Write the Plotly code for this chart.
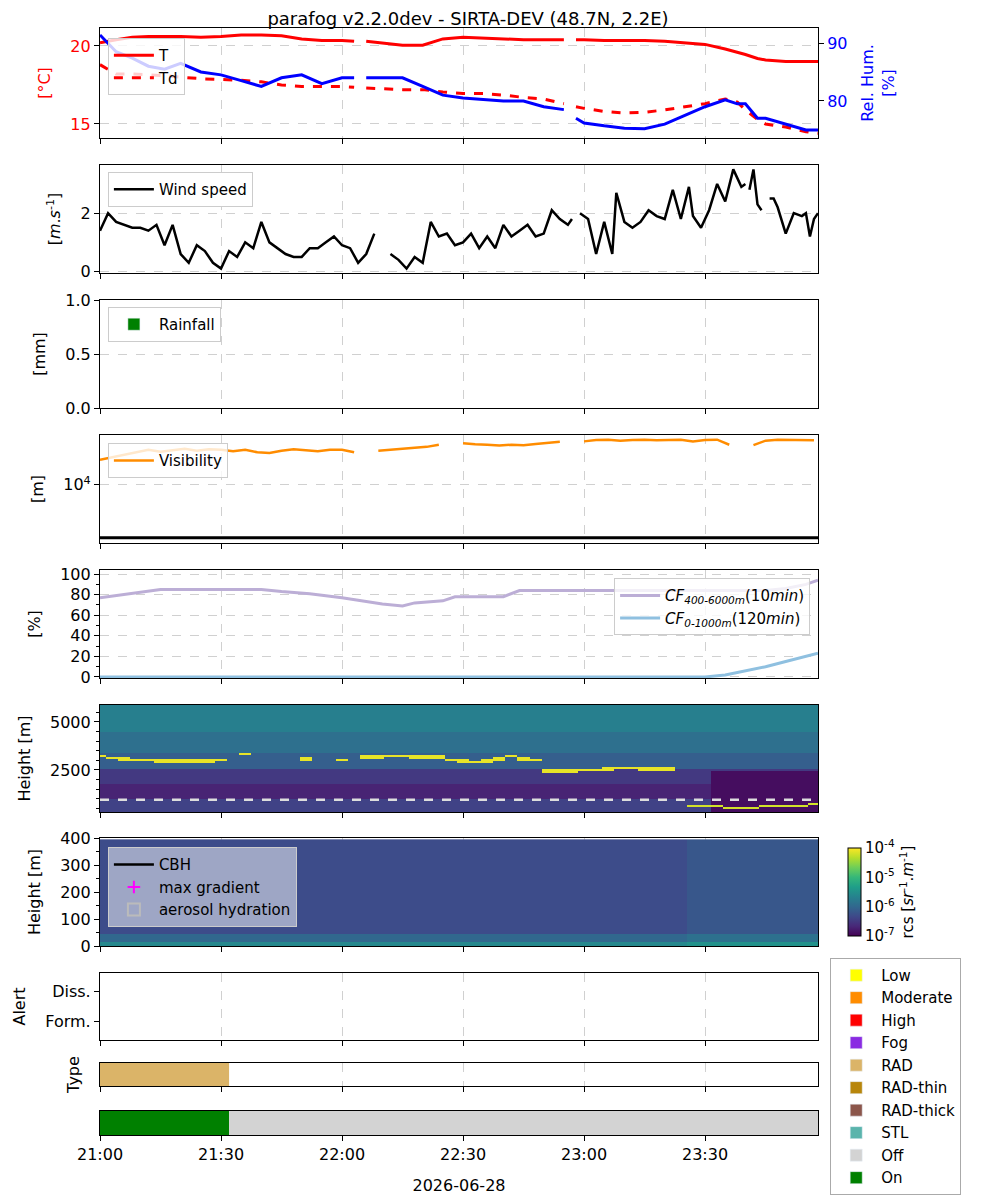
import numpy as np
import pandas as pd
import plotly.graph_objects as go

DAY = "2026-06-28"
T0 = pd.Timestamp(DAY + " 21:00")
XR = [T0, T0 + pd.Timedelta(minutes=178)]

# --- meteo (minutes after 21:00) ---
met_min = [0, 4, 8, 12, 16, 20, 25, 30, 35, 40, 45, 50, 55, 60, 63, 64, 66, 70, 75, 80, 85, 90, 95, 100,
           105, 110, 115, 116, 118, 120, 125, 130, 135, 140, 145, 150, 155, 158, 160, 163, 165, 170, 175, 178]
temp = [20.2, 20.4, 20.55, 20.6, 20.6, 20.6, 20.55, 20.6, 20.7, 20.7, 20.65, 20.45, 20.35, 20.35, 20.3, None,
        20.3, 20.2, 20.05, 20.05, 20.45, 20.55, 20.5, 20.45, 20.4, 20.4, 20.4, None, 20.4, 20.4, 20.35, 20.35,
        20.35, 20.3, 20.2, 20.1, 19.8, 19.6, 19.45, 19.2, 19.1, 19.0, 19.0, 19.0]
dewp = [18.8, 18.2, 18.2, 18.15, 18.1, 18.0, 17.9, 17.85, 17.8, 17.7, 17.5, 17.4, 17.4, 17.4, 17.35, None,
        17.3, 17.25, 17.2, 17.2, 17.05, 16.95, 16.95, 16.85, 16.7, 16.6, 16.3, None, 16.1, 16.0, 15.8, 15.7,
        15.75, 15.9, 16.1, 16.3, 16.6, 16.4, 15.9, 15.3, 15.0, 14.8, 14.5, 14.4]
rh = [91.4, 88.5, 87.4, 86.0, 85.5, 86.5, 85.0, 84.5, 83.5, 82.5, 84.0, 84.5, 83.0, 84.0, 84.0, None,
      84.0, 84.0, 84.0, 82.5, 81.0, 80.5, 80.3, 80.0, 80.0, 79.0, 78.5, None, 77.0, 76.2, 75.7, 75.3,
      75.2, 76.0, 77.5, 79.0, 80.2, 79.5, 79.5, 77.0, 77.0, 76.0, 75.0, 75.0]

wind_min = [0, 2, 4, 6, 8, 10, 12, 14, 16, 18, 20, 22, 24, 26, 28, 30, 32, 34, 36, 38, 40, 42, 44, 46, 48,
            50, 52, 54, 56, 58, 60, 62, 64, 66, 68, 70, 72, 74, 76, 78, 80, 82, 84, 86, 88, 90, 92, 94, 96,
            98, 100, 102, 104, 106, 108, 110, 112, 114, 116, 117, 118, 119, 121, 123, 125, 127, 128, 130,
            132, 134, 136, 138, 140, 142, 144, 146, 147, 149, 151, 153, 155, 157, 159, 160, 160.5, 161,
            162, 163, 164, 165, 166, 167, 168, 170, 172, 174, 175, 176, 177, 178]
wind = [1.4, 2.0, 1.7, 1.6, 1.5, 1.5, 1.4, 1.6, 0.9, 1.6, 0.6, 0.3, 0.9, 0.7, 0.3, 0.1, 0.7, 0.5, 1.0,
        0.8, 1.7, 1.0, 0.8, 0.6, 0.5, 0.5, 0.8, 0.8, 1.0, 1.2, 0.9, 0.8, 0.3, 0.6, 1.3, None, 0.6, 0.4,
        0.1, 0.5, 0.3, 1.7, 1.2, 1.3, 0.9, 1.0, 1.3, 0.8, 1.2, 0.8, 1.6, 1.2, 1.4, 1.6, 1.2, 1.3, 2.1,
        1.8, 1.6, 1.8, None, 2.0, 1.8, 0.6, 1.7, 0.6, 2.7, 1.7, 1.5, 1.7, 2.1, 1.9, 1.8, 2.8, 1.8, 2.9,
        1.9, 1.5, 2.1, 3.0, 2.4, 3.5, 2.9, 3.0, None, 2.8, 3.5, 2.3, 2.1, None, 2.5, 2.5, 2.2, 1.3, 2.0,
        1.9, 2.0, 1.2, 1.8, 2.0]

vis_min = list(range(0, 179, 3))
vis_k = [29.5, 33, 36.8, 40, 45.7, 42, 45, 48, 44, 47, 45.7, 43, 46, 41, 39.7, 44, 47, 45.7, 43, 46,
         45.7, 41, None, 44, 45.7, 47, 49, 52, 57, None, 61, 58, 57, 55, 57, 56, 59, 62, 65, None,
         66, 70, 71, 68, 70, 71, 69, 70, 71, 66, 70, 71, 57, None, 56, 68, 71, 70, 68, 69]

cf_min = [0, 15, 40, 45, 52, 60, 70, 75, 78, 85, 88, 100, 104, 165, 170, 175, 178]
cf_high = [77, 85, 85, 83, 81, 77, 71, 69, 72, 74, 78, 78, 84, 84, 86, 90, 94]
cf_low_min = [0, 150, 155, 160, 165, 170, 178]
cf_low = [0, 0, 2, 6, 10, 15, 23]

# --- lidar ---
lid_min = list(range(0, 178, 3))
cloud_h = [3200, 3100, 3050, 3000, 3000, 2980, 2960, 2950, 2950, 2950, 3000, None, 3300, None, None,
           None, None, 3050, None, None, 3000, None, 3150, 3150, 3200, 3200, 3150, 3150, 3120, 3000,
           2930, 2900, 2950, 3050, 3200, 3050, 3000, 2450, 2450, 2450, 2500, 2500, 2550, 2600, 2600,
           2550, 2550, 2550, None, None, None, None, None, None, None, None, None, None, None, None]
low_cloud_h = [None] * 49 + [560, 580, 560, 540, 520, 540, 560, 600, 620, 640, 660]
heights = list(range(300, 6000, 100))
bg_band_top = [1000, 1800, 2600, 3400, 4500, 6000]
bg_band_val = [-6.4, -6.7, -6.5, -6.1, -5.9, -5.7]
low_heights = list(range(0, 400, 10))
low_band_top = [20, 50, 400]
low_band_val = [-5.6, -6.0, -6.3]

state_start = ["21:00"]
state_end = ["21:32"]

def tmin(m):
    return [T0 + pd.Timedelta(minutes=v) for v in m]

def band(h, tops, vals):
    for t, v in zip(tops, vals):
        if h < t:
            return v
    return vals[-1]

z_hi = []
for h in heights:
    row = []
    for i, m in enumerate(lid_min):
        v = band(h, bg_band_top, bg_band_val)
        if m >= 152 and h < 2500:
            v = -6.9
        c = cloud_h[i]
        if c is not None and abs(h - c) < 100:
            v = -4.1
        lc = low_cloud_h[i]
        if lc is not None and abs(h - lc) < 60:
            v = -4.2
        row.append(v)
    z_hi.append(row)

z_lo = []
for h in low_heights:
    row = []
    for m in lid_min:
        v = band(h, low_band_top, low_band_val)
        if m >= 145:
            v += 0.12
        row.append(v)
    z_lo.append(row)

FONT = "DejaVu Sans"
fig = go.Figure()

def D(y0, y1):
    return [(1135 - y1) / 1107, (1135 - y0) / 1107]

doms = [D(28, 138), D(165, 273), D(300, 408), D(435, 543), D(570, 678),
        D(705, 812), D(838, 946), D(973, 1040), D(1063, 1086), D(1111, 1135)]

# panel 1
fig.add_trace(go.Scatter(x=tmin(met_min), y=temp, name="T", mode="lines", line=dict(color="red", width=3),
                         xaxis="x", yaxis="y", legend="legend"))
fig.add_trace(go.Scatter(x=tmin(met_min), y=dewp, name="Td", mode="lines",
                         line=dict(color="red", width=3, dash="dash"), xaxis="x", yaxis="y", legend="legend"))
fig.add_trace(go.Scatter(x=tmin(met_min), y=rh, name="RH", showlegend=False, mode="lines",
                         line=dict(color="blue", width=3), xaxis="x", yaxis="y11"))
# panel 2
fig.add_trace(go.Scatter(x=tmin(wind_min), y=wind, name="Wind speed", mode="lines",
                         line=dict(color="black", width=2.5), xaxis="x2", yaxis="y2", legend="legend2"))
# panel 3
fig.add_trace(go.Bar(x=[T0], y=[0], name="Rainfall", marker_color="green",
                     xaxis="x3", yaxis="y3", legend="legend3"))
# panel 4
fig.add_trace(go.Scatter(x=tmin(vis_min), y=[None if v is None else v * 1000 for v in vis_k],
                         name="Visibility", mode="lines", line=dict(color="darkorange", width=2.5),
                         xaxis="x4", yaxis="y4", legend="legend4"))
fig.add_trace(go.Scatter(x=XR, y=[1000, 1000], showlegend=False, mode="lines",
                         line=dict(color="black", width=3), xaxis="x4", yaxis="y4"))
# panel 5
fig.add_trace(go.Scatter(x=tmin(cf_min), y=cf_high, mode="lines",
                         name="<i>CF</i><sub><i>400-6000m</i></sub>(10<i>min</i>)",
                         line=dict(color="#bcaed6", width=3), xaxis="x5", yaxis="y5", legend="legend5"))
fig.add_trace(go.Scatter(x=tmin(cf_low_min), y=cf_low, mode="lines",
                         name="<i>CF</i><sub><i>0-1000m</i></sub>(120<i>min</i>)",
                         line=dict(color="#8fc0e0", width=3), xaxis="x5", yaxis="y5", legend="legend5"))
# panel 6
fig.add_trace(go.Heatmap(x=tmin(lid_min), y=heights, z=z_hi, colorscale="Viridis", zmin=-7, zmax=-4,
                         showscale=False, xaxis="x6", yaxis="y6"))
fig.add_trace(go.Scatter(x=XR, y=[950, 950], showlegend=False, mode="lines",
                         line=dict(color="#dddddd", width=2.5, dash="dash"), xaxis="x6", yaxis="y6"))
# panel 7
fig.add_trace(go.Heatmap(x=tmin(lid_min), y=low_heights, z=z_lo, colorscale="Viridis", zmin=-7, zmax=-4,
                         xaxis="x7", yaxis="y7",
                         colorbar=dict(x=1.028, xanchor="left", y=doms[6][0], yanchor="bottom",
                                       len=doms[6][1] - doms[6][0], thickness=13, outlinecolor="black",
                                       outlinewidth=1, tickvals=[-7, -6, -5, -4],
                                       ticktext=["10<sup>-7</sup>", "10<sup>-6</sup>", "10<sup>-5</sup>", "10<sup>-4</sup>"],
                                       tickfont=dict(size=15),
                                       title=dict(text="rcs [<i>sr</i><sup>-1</sup>.<i>m</i><sup>-1</sup>]",
                                                  side="right", font=dict(size=15)))))
fig.add_trace(go.Scatter(x=[None], y=[None], name="CBH", mode="lines", line=dict(color="black", width=2.5),
                         xaxis="x7", yaxis="y7", legend="legend6"))
fig.add_trace(go.Scatter(x=[None], y=[None], name="max gradient", mode="markers",
                         marker=dict(symbol="cross-thin", color="magenta", size=9, line=dict(color="magenta", width=2)),
                         xaxis="x7", yaxis="y7", legend="legend6"))
fig.add_trace(go.Bar(x=[None], y=[None], name="aerosol hydration",
                     marker=dict(color="rgba(0,0,0,0)", line=dict(color="#bbbbbb", width=2)),
                     xaxis="x7", yaxis="y7", legend="legend6"))
# panel 8 (empty alerts)
fig.add_trace(go.Scatter(x=[None], y=[None], showlegend=False, xaxis="x8", yaxis="y8"))
# panels 9, 10
for s, e in zip(state_start, state_end):
    st = pd.Timestamp(DAY + " " + s)
    en = pd.Timestamp(DAY + " " + e)
    dur = (en - st).total_seconds() * 1000
    fig.add_trace(go.Bar(x=[dur], y=[0], base=[st], orientation="h", width=1, marker_color="#dbb468",
                         marker_line_width=0, showlegend=False, xaxis="x9", yaxis="y9"))
    fig.add_trace(go.Bar(x=[dur], y=[0], base=[st], orientation="h", width=1, marker_color="green",
                         marker_line_width=0, showlegend=False, xaxis="x10", yaxis="y10"))
    off_dur = (XR[1] - en).total_seconds() * 1000
    fig.add_trace(go.Bar(x=[off_dur], y=[0], base=[en], orientation="h", width=1, marker_color="lightgrey",
                         marker_line_width=0, showlegend=False, xaxis="x10", yaxis="y10"))

cat_names = ["Low", "Moderate", "High", "Fog", "RAD", "RAD-thin", "RAD-thick", "STL", "Off", "On"]
cat_colors = ["yellow", "darkorange", "red", "blueviolet", "#dbb468", "#b8860b", "#8c564b", "#5ab4ac",
              "lightgrey", "green"]
for n, c in zip(cat_names, cat_colors):
    fig.add_trace(go.Bar(x=[None], y=[None], name=n, marker_color=c, xaxis="x10", yaxis="y10",
                         legend="legend7"))

grid = dict(showgrid=True, gridcolor="#d0d0d0", griddash="dash", gridwidth=1)
frame = dict(showline=True, linecolor="black", linewidth=1.2, mirror=True, ticks="outside",
             tickcolor="black", ticklen=5, zeroline=False, tickfont=dict(size=16), automargin=False)
tick_vals = [T0 + pd.Timedelta(minutes=30 * k) for k in range(6)]

lay = dict()
for i in range(1, 11):
    k = "" if i == 1 else str(i)
    lay["xaxis" + k] = dict(domain=[0, 1], anchor="y" + k, range=XR, type="date", tickvals=tick_vals,
                            tickformat="%H:%M", showticklabels=(i == 10), **grid, **frame)
    if i > 1:
        lay["xaxis" + k]["matches"] = "x"
lay["xaxis10"]["title"] = dict(text=DAY, font=dict(size=16), standoff=16)

lay["yaxis"] = dict(domain=doms[0], range=[14.1, 21.15], tickvals=[15, 20], **grid, **frame,
                    title=dict(text="[°C]", font=dict(size=16, color="red")))
lay["yaxis"]["tickfont"] = dict(size=16, color="red")
lay["yaxis11"] = dict(overlaying="y", anchor="x", side="right", range=[73.6, 92.6], tickvals=[80, 90],
                      showgrid=False, showline=False, ticks="outside", tickcolor="black", automargin=False,
                      tickfont=dict(size=16, color="blue"),
                      title=dict(text="Rel. Hum.<br>[%]", font=dict(size=16, color="blue")))
lay["yaxis2"] = dict(domain=doms[1], range=[-0.05, 3.65], tickvals=[0, 2], **grid, **frame,
                     title=dict(text="[<i>m</i>.<i>s</i><sup>-1</sup>]", font=dict(size=16)))
lay["yaxis3"] = dict(domain=doms[2], range=[0, 1], tickvals=[0, 0.5, 1], tickformat=".1f", **grid, **frame,
                     title=dict(text="[mm]", font=dict(size=16)))
lay["yaxis4"] = dict(domain=doms[3], type="log", range=[2.9, 4.94], tickvals=[10000],
                     ticktext=["10<sup>4</sup>"], **grid, **frame, title=dict(text="[m]", font=dict(size=16)))
lay["yaxis5"] = dict(domain=doms[4], range=[-1, 104], tickvals=[0, 20, 40, 60, 80, 100], **grid, **frame,
                     minor=dict(ticks="outside", dtick=10, ticklen=3, tickcolor="black"),
                     title=dict(text="[%]", font=dict(size=16)))
lay["yaxis6"] = dict(domain=doms[5], range=[310, 5880], tickvals=[2500, 5000], **grid, **frame,
                     minor=dict(ticks="outside", dtick=500, ticklen=3, tickcolor="black"),
                     title=dict(text="Height [m]", font=dict(size=16)))
lay["yaxis7"] = dict(domain=doms[6], range=[0, 400], tickvals=[0, 100, 200, 300, 400], **grid, **frame,
                     minor=dict(ticks="outside", dtick=50, ticklen=3, tickcolor="black"),
                     title=dict(text="Height [m]", font=dict(size=16)))
lay["yaxis8"] = dict(domain=doms[7], range=[-0.6, 1.6], tickvals=[0, 1], ticktext=["Form.", "Diss."],
                     showgrid=False, **frame, title=dict(text="Alert", font=dict(size=16)))
lay["yaxis9"] = dict(domain=doms[8], range=[-0.5, 0.5], showticklabels=False, ticks="", showgrid=False,
                     showline=True, linecolor="black", mirror=True, zeroline=False, automargin=False,
                     title=dict(text="Type", font=dict(size=16)))
lay["yaxis10"] = dict(domain=doms[9], range=[-0.5, 0.5], showticklabels=False, ticks="", showgrid=False,
                      showline=True, linecolor="black", mirror=True, zeroline=False, automargin=False)

def lg(x, y, xa="left", bg="white"):
    return dict(x=x, y=y, xanchor=xa, yanchor="top", bgcolor=bg, bordercolor="#cccccc", borderwidth=1,
                font=dict(size=15, family=FONT), itemwidth=40, tracegroupgap=2)

lay["legend"] = lg(0.011, 0.991, bg="rgba(255,255,255,0.8)")
lay["legend2"] = lg(0.011, 0.870)
lay["legend3"] = lg(0.011, 0.748)
lay["legend4"] = lg(0.011, 0.625, bg="rgba(255,255,255,0.8)")
lay["legend5"] = lg(0.989, 0.503, xa="right", bg="rgba(255,255,255,0.8)")
lay["legend6"] = lg(0.011, 0.260, bg="rgba(255,255,255,0.5)")
lay["legend7"] = lg(1.017, 0.160)
lay["legend7"]["font"] = dict(size=15, family=FONT)
lay["legend7"]["tracegroupgap"] = 0
lay["legend7"]["bordercolor"] = "#aaaaaa"

fig.update_layout(**lay)
fig.update_layout(
    width=1000, height=1200, plot_bgcolor="white", paper_bgcolor="white",
    margin=dict(l=92, r=190, t=20, b=73, autoexpand=False), barmode="overlay",
    font=dict(family=FONT, size=16, color="black"),
    title=dict(text="parafog v2.2.0dev - SIRTA-DEV (48.7N, 2.2E)", x=0.46, xanchor="center", y=0.991,
               yanchor="middle", font=dict(size=18)),
)
fig.write_html("out.html")
